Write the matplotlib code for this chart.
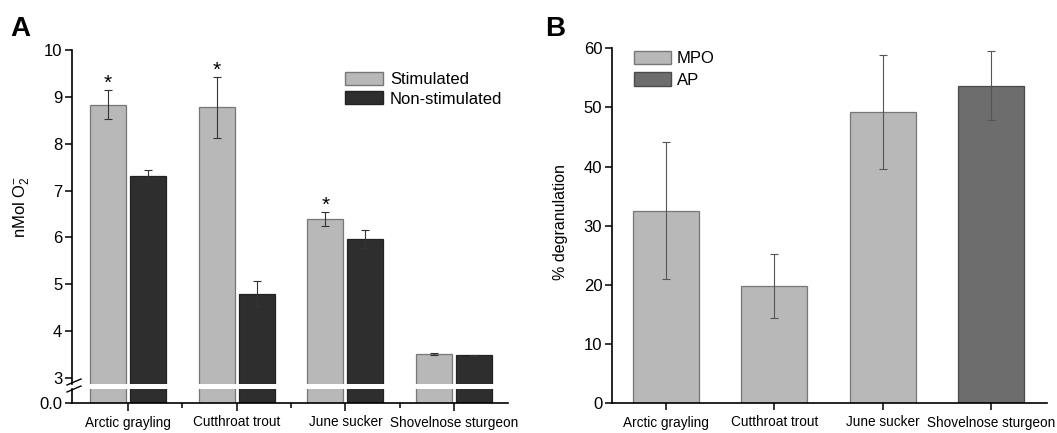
import matplotlib
matplotlib.use('Agg')
import matplotlib.pyplot as plt
from matplotlib.lines import Line2D
from matplotlib.patches import Patch
from matplotlib import font_manager
import numpy as np

plt.rcParams['font.family'] = ['Liberation Sans', 'DejaVu Sans']
plt.rcParams['mathtext.fontset'] = 'custom'
plt.rcParams['mathtext.rm'] = 'Liberation Sans'
plt.rcParams['mathtext.it'] = 'Liberation Sans:italic'
plt.rcParams['mathtext.bf'] = 'Liberation Sans:bold'

installed = {f.name for f in font_manager.fontManager.ttflist}
if 'Liberation Sans Narrow' in installed:
    CAT_FAMILY, CAT_SIZE = ['Liberation Sans Narrow', 'DejaVu Sans'], 11.5
else:
    CAT_FAMILY, CAT_SIZE = ['Liberation Sans', 'DejaVu Sans'], 9.8

# ---------------- data ----------------
species = ['Arctic grayling', 'Cutthroat trout', 'June sucker', 'Shovelnose sturgeon']
stim = [8.83, 8.78, 6.40, 3.51]
stim_err = [0.31, 0.65, 0.15, 0.02]
nonstim = [7.31, 4.80, 5.96, 3.49]
nonstim_err = [0.13, 0.26, 0.19, 0.01]
significant = [True, True, True, False]
yticks_A = [3, 4, 5, 6, 7, 8, 9, 10]

degran = [32.5, 19.8, 49.3, 53.7]
degran_err = [11.6, 5.35, 9.65, 5.8]
assay = ['MPO', 'MPO', 'MPO', 'AP']
yticks_B = [0, 10, 20, 30, 40, 50, 60]

# ---------------- styling ----------------
LIGHT = '#b8b8b8'
LIGHT_EDGE = '#777777'
DARK = '#2e2e2e'
DARK_EDGE = '#222222'
MID = '#6d6d6d'
MID_EDGE = '#4a4a4a'
ERR = '#333333'

W, H = 1057, 433
def fx(px): return px / W
def fy(py): return 1 - py / H

fig = plt.figure(figsize=(W / 100, H / 100), dpi=100)

spine_lw = 1.2
tick_kw = dict(direction='out', length=5, width=1.1, labelsize=12, pad=2)

# ---------------- Panel A ----------------
px_per_unit = (378 - 50) / 7.0
yb_upper = 3 - (384 - 378) / px_per_unit
ytop_lower = (403 - 389) / px_per_unit

axU = fig.add_axes([fx(72), fy(384), fx(508) - fx(72), fy(50) - fy(384)])
axL = fig.add_axes([fx(72), fy(403), fx(508) - fx(72), fy(389) - fy(403)])

x = np.arange(len(species))
bw = 0.33
off = 0.184
for ax in (axU, axL):
    ax.bar(x - off, stim, bw, color=LIGHT, edgecolor=LIGHT_EDGE, linewidth=0.9, zorder=2)
    ax.bar(x + off, nonstim, bw, color=DARK, edgecolor=DARK_EDGE, linewidth=0.9, zorder=2)
    ax.set_xlim(-0.515, 3.497)
    for s in ('top', 'right'):
        ax.spines[s].set_visible(False)
    for s in ('left', 'bottom'):
        ax.spines[s].set_linewidth(spine_lw)

axU.errorbar(x - off, stim, yerr=stim_err, fmt='none', ecolor=ERR, elinewidth=0.8,
             capsize=3, capthick=0.8, zorder=3)
axU.errorbar(x + off, nonstim, yerr=nonstim_err, fmt='none', ecolor=ERR, elinewidth=0.8,
             capsize=3, capthick=0.8, zorder=3)
for i, sgn in enumerate(significant):
    if sgn:
        axU.annotate('*', xy=(x[i] - off, stim[i] + stim_err[i]), xytext=(0, -2),
                     textcoords='offset points', ha='center', va='bottom', fontsize=15)

axU.set_ylim(yb_upper, 10)
axU.spines['bottom'].set_visible(False)
axU.set_yticks(yticks_A)
axU.set_xticks([])
axU.tick_params(axis='y', **tick_kw)

axL.set_ylim(0, ytop_lower)
axL.set_yticks([0])
axL.set_yticklabels(['0.0'])
axL.tick_params(axis='y', **tick_kw)
axL.set_xticks(x)
axL.set_xticklabels(species, fontsize=CAT_SIZE, family=CAT_FAMILY)
axL.set_xticks([0.5, 1.5, 2.5], minor=True)
axL.tick_params(axis='x', which='major', direction='out', length=6, width=1.1, pad=3)
axL.tick_params(axis='x', which='minor', direction='out', length=3.5, width=1.1)

# break marks
for (x0, y0, x1, y1) in [(67, 385, 81, 379), (67, 392, 81, 386)]:
    fig.add_artist(Line2D([fx(x0), fx(x1)], [fy(y0), fy(y1)], color='black', lw=1.0))

axU.legend(handles=[Patch(facecolor=LIGHT, edgecolor=LIGHT_EDGE, label='Stimulated'),
                    Patch(facecolor=DARK, edgecolor=DARK_EDGE, label='Non-stimulated')],
           loc='upper left', bbox_to_anchor=(fx(345), fy(72)), bbox_transform=fig.transFigure,
           frameon=False, fontsize=12, borderpad=0, borderaxespad=0,
           handlelength=2.3, handleheight=0.8, handletextpad=0.4, labelspacing=0.25)

fig.text(fx(22), fy(207), r'nMol O$_2^{-}$', rotation=90, ha='center', va='center', fontsize=12)
fig.text(fx(10), fy(36), 'A', fontsize=20, fontweight='bold', ha='left', va='baseline')

# ---------------- Panel B ----------------
axB = fig.add_axes([fx(612), fy(403), fx(1047) - fx(612), fy(48.3) - fy(403)])
xb = np.arange(len(species))
colors = [LIGHT if a == 'MPO' else MID for a in assay]
edges = [LIGHT_EDGE if a == 'MPO' else MID_EDGE for a in assay]
axB.bar(xb, degran, 0.61, color=colors, edgecolor=edges, linewidth=0.9, zorder=2)
axB.errorbar(xb, degran, yerr=degran_err, fmt='none', ecolor='#555555', elinewidth=0.8,
             capsize=3, capthick=0.8, zorder=3)
axB.set_xlim(-0.499, 3.518)
axB.set_ylim(0, 60)
axB.set_yticks(yticks_B)
axB.set_xticks(xb)
axB.set_xticklabels(species, fontsize=CAT_SIZE, family=CAT_FAMILY)
axB.tick_params(axis='y', **tick_kw)
axB.tick_params(axis='x', direction='out', length=5, width=1.1, pad=4)
for s in ('top', 'right'):
    axB.spines[s].set_visible(False)
for s in ('left', 'bottom'):
    axB.spines[s].set_linewidth(spine_lw)
axB.legend(handles=[Patch(facecolor=LIGHT, edgecolor=LIGHT_EDGE, label='MPO'),
                    Patch(facecolor=MID, edgecolor=MID_EDGE, label='AP')],
           loc='upper left', bbox_to_anchor=(fx(634), fy(51)), bbox_transform=fig.transFigure,
           frameon=False, fontsize=12, borderpad=0, borderaxespad=0,
           handlelength=2.2, handleheight=0.85, handletextpad=0.35, labelspacing=0.35)
fig.text(fx(560), fy(222), '% degranulation', rotation=90, ha='center', va='center', fontsize=11.5)
fig.text(fx(545), fy(36), 'B', fontsize=20, fontweight='bold', ha='left', va='baseline')

fig.savefig('out.png', dpi=100)
